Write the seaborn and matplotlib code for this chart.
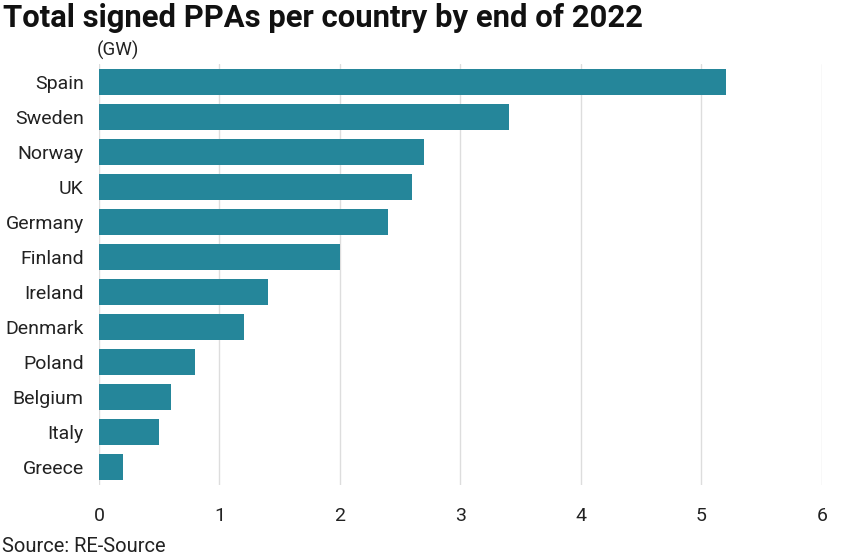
import matplotlib
matplotlib.use("Agg")
import matplotlib.pyplot as plt
import seaborn as sns
import pandas as pd

countries = ["Spain", "Sweden", "Norway", "UK", "Germany", "Finland",
             "Ireland", "Denmark", "Poland", "Belgium", "Italy", "Greece"]
values = [5.2, 3.4, 2.7, 2.6, 2.4, 2.0, 1.4, 1.2, 0.8, 0.6, 0.5, 0.2]
xticks = [0, 1, 2, 3, 4, 5, 6]

sns.set_theme(style="white")
plt.rcParams['font.family'] = ['Roboto', 'DejaVu Sans']

df = pd.DataFrame({"country": countries, "value": values})

fig = plt.figure(figsize=(8.42, 5.59), dpi=100)
ax = fig.add_axes([99/842, 1 - 485/559, (822-99)/842, (485-64)/559])

sns.barplot(data=df, x="value", y="country", color="#25869a", saturation=1,
            width=0.74, linewidth=0, ax=ax, zorder=3)

ax.set_xlim(0, 6)
ax.set_ylim(11.5, -0.5)
ax.set_xticks(xticks)
ax.set_xticklabels([str(t) for t in xticks])
ax.grid(axis="x", color="#dddddd", linewidth=1, zorder=0)
ax.grid(axis="y", visible=False)
for s in ax.spines.values():
    s.set_visible(False)
ax.tick_params(axis="both", length=0, labelsize=14, colors="#222222")
ax.tick_params(axis="x", pad=16)
ax.tick_params(axis="y", pad=11)
ax.set_xlabel("")
ax.set_ylabel("")

fig.text(3/842, 1 - 18/559, "Total signed PPAs per country by end of 2022",
         fontsize=22.3, fontweight="bold", color="#111111", va="center", ha="left")
fig.text(97/842, 1 - 50/559, "(GW)", fontsize=13.5, color="#222222", va="center", ha="left")
fig.text(2/842, 1 - 547/559, "Source: RE-Source", fontsize=14.5, color="#222222", va="center", ha="left")

fig.savefig("out.png", dpi=100)
